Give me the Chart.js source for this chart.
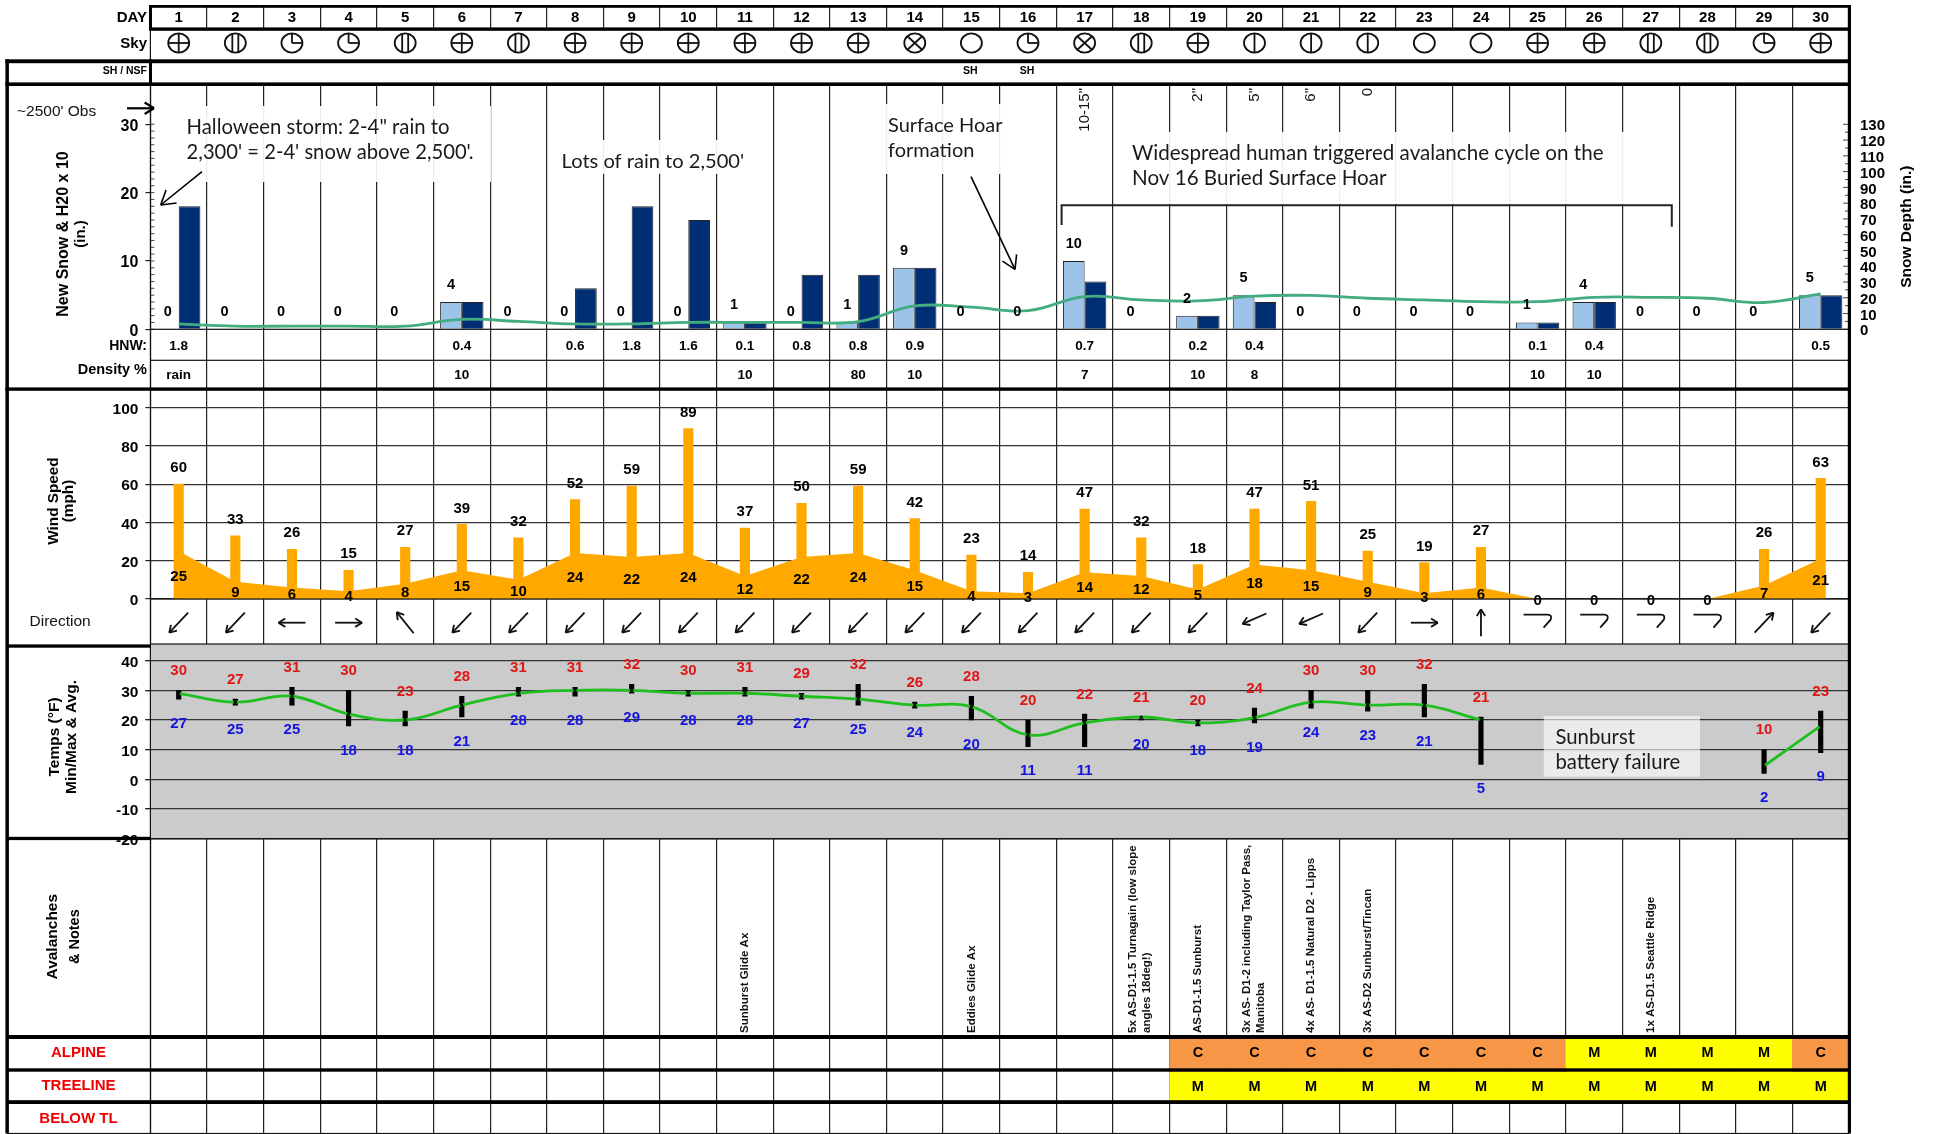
<!DOCTYPE html>
<html>
<head>
<meta charset="utf-8">
<title>Weather and avalanche summary</title>
<style>
  html, body { margin: 0; padding: 0; background: #fff; }
  #wrap { position: relative; width: 1933px; height: 1134px; }
</style>
<script src="https://cdn.jsdelivr.net/npm/chart.js@4"></script>
</head>
<body>
<div id="wrap"><canvas id="chart" width="1933" height="1134"></canvas></div>
<script>
// ---- data ----
const days = [1,2,3,4,5,6,7,8,9,10,11,12,13,14,15,16,17,18,19,20,21,22,23,24,25,26,27,28,29,30];
const skyCover = ['ovc','bkn','sct','sct','bkn','ovc','bkn','ovc','ovc','ovc','ovc','ovc','ovc','obs','clr','sct','obs','bkn','ovc','few','few','few','clr','clr','ovc','ovc','bkn','bkn','sct','ovc'];
const shNsf = ['','','','','','','','','','','','','','','SH','SH','','','','','','','','','','','','','',''];
const newSnow = [0,0,0,0,0,4,0,0,0,0,1,0,1,9,0,0,10,0,2,5,0,0,0,0,1,4,0,0,0,5];
const waterX10 = [18,0,0,0,0,4,0,6,18,16,1,8,8,9,0,0,7,0,2,4,0,0,0,0,1,4,0,0,0,5];
const snowDepth = [3.4,2,2,2,2,6.3,5,3.4,3.4,4.4,4.4,4.4,4.8,14.8,14,11.8,20.7,18.6,18,21,21.5,19.7,18.6,17.5,17.5,20.3,20.3,19.7,17,22.4];
const hnw = ['1.8','','','','','0.4','','0.6','1.8','1.6','0.1','0.8','0.8','0.9','','','0.7','','0.2','0.4','','','','','0.1','0.4','','','','0.5'];
const density = ['rain','','','','','10','','','','','10','','80','10','','','7','','10','8','','','','','10','10','','','',''];
const upperSnow = ['','','','','','','','','','','','','','','','','10-15"','','2"','5"','6"','0','','','','','','','',''];
const windGust = [60,33,26,15,27,39,32,52,59,89,37,50,59,42,23,14,47,32,18,47,51,25,19,27,null,null,null,null,26,63];
const windAvg = [25,9,6,4,8,15,10,24,22,24,12,22,24,15,4,3,14,12,5,18,15,9,3,6,0,0,0,0,7,21];
const windDir = ['SW','SW','W','E','NW','SW','SW','SW','SW','SW','SW','SW','SW','SW','SW','SW','SW','SW','SW','WSW','WSW','SW','E','N','calm','calm','calm','calm','NE','SW'];
const tempMax = [30,27,31,30,23,28,31,31,32,30,31,29,32,26,28,20,22,21,20,24,30,30,32,21,null,null,null,null,10,23];
const tempMin = [27,25,25,18,18,21,28,28,29,28,28,27,25,24,20,11,11,20,18,19,24,23,21,5,null,null,null,null,2,9];
const tempAvg = [29,26,28,22,20,25,29,30,30,29,29,28,27,25,24.5,15,19,21,19,20.8,26,25,25,20,null,null,null,null,4.5,18];
const notes = [[],[],[],[],[],[],[],[],[],[],['Sunburst Glide Ax'],[],[],[],['Eddies Glide Ax'],[],[],
  ['5x AS-D1-1.5 Turnagain (low slope','angles 18deg!)'],['AS-D1-1.5 Sunburst'],['3x AS- D1-2 including Taylor Pass,','Manitoba'],
  ['4x AS- D1-1.5 Natural D2 - Lipps'],['3x AS-D2 Sunburst/Tincan'],[],[],[],[],['1x AS-D1.5 Seattle Ridge'],[],[],[]];
const alpine = ['','','','','','','','','','','','','','','','','','','C','C','C','C','C','C','C','M','M','M','M','C'];
const treeline = ['','','','','','','','','','','','','','','','','','','M','M','M','M','M','M','M','M','M','M','M','M'];

// ---- layout, pixel rows of the sheet ----
const chartLeft = 150.4, chartRight = 1849;
const rowTop = 5.5, rowSnow = 86, rowZero = 329.3, rowDensity = 360.3, rowWind = 391, rowWindZero = 599,
      rowTemp = 644, rowNotes = 838.7, rowAlpine = 1039, rowTreeline = 1071.7, rowBelow = 1104, rowEnd = 1133.5;
const sans = '"Liberation Sans", Arial, sans-serif';
const calibri = 'Lato, "Open Sans", sans-serif';
const dangerColor = { C: '#F79646', M: '#FFFF00' };
const bandOf = vals => vals.map(v => v ? [0, 1] : null);

// axis widths and bands are fixed by pixels, tick labels must not pad the chart area
function fixBox(s, width) {
  s.width = width;
  s.paddingTop = 0;
  s.paddingBottom = 0;
  s.paddingLeft = 0;
  s.paddingRight = 0;
}
function leftAxis(weight, height, min, max, step) {
  return {
    type: 'linear', position: 'left', stack: 'left', stackWeight: height, weight, min, max,
    border: { display: false },
    grid: { color: '#333', lineWidth: 1.2, tickLength: 5, tickColor: '#222' },
    ticks: {
      stepSize: step, includeBounds: false, autoSkip: false, padding: 7, labelOffset: 2, color: '#000',
      font: { family: sans, weight: 'bold', size: 15.5 },
    },
    afterFit: s => fixBox(s, chartLeft),
  };
}
function spacer(position, weight, height, extra) {
  return Object.assign({
    type: 'linear', display: false, position, stack: position, weight, stackWeight: height,
    afterFit: s => fixBox(s, position === 'left' ? chartLeft : 1933 - chartRight),
  }, extra);
}

// ---- drawing helpers ----
function put(ctx, text, x, y, font, color, align) {
  ctx.font = font;
  ctx.fillStyle = color || '#000';
  ctx.textAlign = align || 'center';
  ctx.textBaseline = 'middle';
  ctx.fillText(text, x, y);
}
function putUp(ctx, text, x, y, font, color, align) {
  ctx.save();
  ctx.translate(x, y);
  ctx.rotate(-Math.PI / 2);
  put(ctx, text, 0, 0, font, color, align);
  ctx.restore();
}
function seg(ctx, x1, y1, x2, y2) {
  ctx.beginPath();
  ctx.moveTo(x1, y1);
  ctx.lineTo(x2, y2);
  ctx.stroke();
}
function arrow(ctx, x1, y1, x2, y2, head) {
  seg(ctx, x1, y1, x2, y2);
  const a = Math.atan2(y2 - y1, x2 - x1);
  seg(ctx, x2, y2, x2 - head * Math.cos(a - 0.55), y2 - head * Math.sin(a - 0.55));
  seg(ctx, x2, y2, x2 - head * Math.cos(a + 0.55), y2 - head * Math.sin(a + 0.55));
}
function skyIcon(ctx, kind, x, y) {
  const rx = 10.5, ry = 9.6;
  ctx.strokeStyle = '#111';
  ctx.lineWidth = 1.8;
  ctx.beginPath();
  ctx.ellipse(x, y, rx, ry, 0, 0, Math.PI * 2);
  ctx.stroke();
  if (kind === 'ovc') {
    seg(ctx, x - rx, y, x + rx, y);
    seg(ctx, x, y - ry, x, y + ry);
  } else if (kind === 'bkn') {
    seg(ctx, x - 3, y - ry + 0.8, x - 3, y + ry - 0.8);
    seg(ctx, x + 3, y - ry + 0.8, x + 3, y + ry - 0.8);
  } else if (kind === 'few') {
    seg(ctx, x, y - ry, x, y + ry);
  } else if (kind === 'sct') {
    seg(ctx, x, y - ry, x, y);
    seg(ctx, x, y, x + rx, y);
  } else if (kind === 'obs') {
    const k = 0.7;
    seg(ctx, x - rx * k, y - ry * k, x + rx * k, y + ry * k);
    seg(ctx, x - rx * k, y + ry * k, x + rx * k, y - ry * k);
  }
}
const headings = { N: [0, -1], NE: [0.7, -0.74], E: [1, 0], SW: [-0.7, 0.74], W: [-1, 0], NW: [-0.63, -0.78], WSW: [-0.92, 0.4] };
function windArrow(ctx, dir, x, y) {
  ctx.strokeStyle = '#111';
  ctx.lineWidth = 1.8;
  if (dir === 'calm') {
    ctx.beginPath();
    ctx.moveTo(x - 14, y - 8);
    ctx.lineTo(x + 10, y - 8);
    ctx.quadraticCurveTo(x + 15, y - 8, x + 13, y - 3);
    ctx.lineTo(x + 6, y + 5);
    ctx.stroke();
    return;
  }
  const d = headings[dir], half = dir === 'WSW' ? 13 : 13.5;
  const yc = dir === 'WSW' ? y - 4 : y;
  arrow(ctx, x - d[0] * half, yc - d[1] * half, x + d[0] * half, yc + d[1] * half, 8);
}

// ---- plugin: what chart.js has no element for ----
const sheetPlugin = {
  id: 'sheet',
  beforeDatasetsDraw(chart) {
    const { ctx, chartArea, scales } = chart;
    ctx.save();
    // sky and SH rows have no day lines, the temp panel is grey with no day lines
    ctx.fillStyle = '#fff';
    ctx.fillRect(chartLeft - 0.5, 30, chartRight - chartLeft + 1, rowSnow - 30);
    ctx.fillStyle = '#CBCBCB';
    ctx.fillRect(chartLeft, rowTemp, chartRight - chartLeft, rowNotes - rowTemp);
    scales.yTemp.drawGrid(chartArea);
    ctx.restore();
  },
  afterDatasetsDraw(chart) {
    const { ctx, scales } = chart;
    const x = scales.x, ySnow = scales.ySnow, yDepth = scales.yDepth, yWind = scales.yWind, yTemp = scales.yTemp;
    ctx.save();

    const boldF = s => 'bold ' + s + 'px ' + sans;
    days.forEach((d, i) => {
      const cx = x.getPixelForValue(i);
      put(ctx, String(d), cx, 17.5, boldF(15));
      skyIcon(ctx, skyCover[i], cx, 43);
      if (shNsf[i]) put(ctx, shNsf[i], cx - 1, 71, boldF(10.5));
      if (hnw[i]) put(ctx, hnw[i], cx, 346.3, boldF(13.5));
      if (density[i]) put(ctx, density[i], cx, 375, boldF(13.5));
      if (upperSnow[i]) putUp(ctx, upperSnow[i], cx, 88, '15px ' + sans, '#111', 'right');

      // new snow values stand over the light bar
      const lightBar = chart.getDatasetMeta(0).data[i];
      put(ctx, String(newSnow[i]), lightBar.x, ySnow.getPixelForValue(newSnow[i]) - 17, boldF(14.5));

      if (windGust[i] !== null) put(ctx, String(windGust[i]), cx, yWind.getPixelForValue(windGust[i]) - 16, boldF(15));
      put(ctx, String(windAvg[i]), cx, yWind.getPixelForValue(windAvg[i] / 2) + 2, boldF(15));
      windArrow(ctx, windDir[i], cx, 622.7);

      if (tempMax[i] !== null) {
        put(ctx, String(tempMax[i]), cx, yTemp.getPixelForValue(tempMax[i]) - 19.5, boldF(15), '#E01515');
        put(ctx, String(tempMin[i]), cx, yTemp.getPixelForValue(tempMin[i]) + 24.5, boldF(15), '#1515E0');
      }

      notes[i].forEach((line, k) => {
        const off = notes[i].length > 1 ? (k === 0 ? -8 : 6) : 0;
        putUp(ctx, line, cx + off, 1033, 'bold 11.5px ' + sans, '#111', 'left');
      });
      if (alpine[i]) put(ctx, alpine[i], cx, 1053, boldF(14.5));
      if (treeline[i]) put(ctx, treeline[i], cx, 1086.5, boldF(14.5));
    });

    // minor ticks along both snow axes
    ctx.strokeStyle = '#444';
    ctx.lineWidth = 1;
    for (let v = 0; v <= 30; v++) seg(ctx, chartLeft, ySnow.getPixelForValue(v), chartLeft + 4, ySnow.getPixelForValue(v));
    for (let v = 0; v <= 130; v += 5) {
      const len = v % 10 === 0 ? 6 : 4;
      seg(ctx, chartRight - len, yDepth.getPixelForValue(v), chartRight, yDepth.getPixelForValue(v));
    }
    ctx.restore();
  },
  afterDraw(chart) {
    const { ctx } = chart;
    ctx.save();

    // row lines of the sheet
    ctx.fillStyle = '#111';
    ctx.fillRect(chartLeft, rowZero - 0.6, chartRight - chartLeft, 1.2);
    ctx.fillRect(chartLeft, rowDensity - 0.6, chartRight - chartLeft, 1.2);
    ctx.fillRect(chartLeft, rowWindZero - 0.6, chartRight - chartLeft, 1.2);
    ctx.fillRect(chartLeft, rowTemp - 0.6, chartRight - chartLeft, 1.2);
    ctx.fillRect(chartLeft, rowNotes - 0.6, chartRight - chartLeft, 1.2);
    ctx.fillRect(chartLeft - 0.6, 30, 1.2, rowEnd - 30);
    ctx.fillRect(7, rowEnd - 0.6, chartRight - 7, 1.2);

    // heavy frame
    ctx.fillStyle = '#000';
    const thickH = (x1, y1, y2) => ctx.fillRect(x1, y1, 1851 - x1, y2 - y1);
    thickH(149, 5, 7.8);
    thickH(149, 27.4, 30.8);
    thickH(5.4, 59.3, 63.2);
    thickH(5.4, 82.4, 86);
    thickH(5.4, 387.4, 390.8);
    thickH(6, 1035, 1039);
    thickH(6, 1068.3, 1071.7);
    thickH(6, 1100.2, 1104);
    ctx.fillRect(5.4, 59.3, 3.5, rowEnd - 59.3);
    ctx.fillRect(1847.8, 5, 3.2, rowEnd - 5);
    ctx.fillRect(149, 5, 3, 25);
    ctx.fillRect(149, 59.3, 3, 26.7);
    ctx.fillRect(6, 644.4, 145, 3.3);
    ctx.fillRect(6, 836.8, 145, 3.3);

    // row and panel titles
    const bold = s => 'bold ' + s + 'px ' + sans;
    put(ctx, 'DAY', 147, 17.5, bold(15), '#000', 'right');
    put(ctx, 'Sky', 147, 44, bold(15), '#000', 'right');
    put(ctx, 'SH / NSF', 147, 71, bold(10.5), '#000', 'right');
    put(ctx, 'HNW:', 147, 346.3, bold(14), '#000', 'right');
    put(ctx, 'Density %', 147, 369.5, bold(14.5), '#000', 'right');
    put(ctx, "~2500' Obs", 17, 111.7, '15.5px ' + sans, '#111', 'left');
    put(ctx, 'Direction', 29.5, 621.7, '15.5px ' + sans, '#111', 'left');
    putUp(ctx, 'New Snow & H20 x 10', 63.8, 234, bold(16));
    putUp(ctx, '(in.)', 81, 234, bold(15));
    putUp(ctx, 'Wind Speed', 53.6, 501, bold(15.3));
    putUp(ctx, '(mph)', 69, 501, bold(15.3));
    putUp(ctx, 'Temps (°F)', 54.5, 737, bold(15.5));
    putUp(ctx, 'Min/Max & Avg.', 71.4, 737, bold(15.5));
    putUp(ctx, 'Avalanches', 53, 936.7, bold(15.5));
    putUp(ctx, '& Notes', 75, 936.7, bold(14.5));
    putUp(ctx, 'Snow Depth (in.)', 1906.8, 226.7, bold(15.5));
    put(ctx, 'ALPINE', 78.5, 1052.5, bold(15), '#F00000');
    put(ctx, 'TREELINE', 78.5, 1085.5, bold(15), '#F00000');
    put(ctx, 'BELOW TL', 78.5, 1118.5, bold(15), '#F00000');

    // text boxes drawn over the sheet
    const box = (x1, y1, x2, y2) => { ctx.fillStyle = 'rgba(255,255,255,0.92)'; ctx.fillRect(x1, y1, x2 - x1, y2 - y1); };
    box(176, 106, 491, 182);
    box(549, 140, 773, 174);
    box(885, 104, 1003, 174);
    box(1116, 132, 1625, 204);
    ctx.fillStyle = 'rgba(255,255,255,0.62)';
    ctx.fillRect(1543.8, 716, 156.2, 60.7);

    const note = s => s + 'px ' + calibri;
    put(ctx, 'Halloween storm: 2-4" rain to', 186.6, 127.3, note(20.3), '#1a1a1a', 'left');
    put(ctx, "2,300' = 2-4' snow above 2,500'.", 186.6, 152.7, note(20.2), '#1a1a1a', 'left');
    put(ctx, "Lots of rain to 2,500'", 561.6, 162, note(20.1), '#1a1a1a', 'left');
    put(ctx, 'Surface Hoar', 888, 125.3, note(20), '#1a1a1a', 'left');
    put(ctx, 'formation', 888, 150.7, note(20), '#1a1a1a', 'left');
    put(ctx, 'Widespread human triggered avalanche cycle on the', 1132, 153.3, note(20.6), '#1a1a1a', 'left');
    put(ctx, 'Nov 16 Buried Surface Hoar', 1132, 178.7, note(20.6), '#1a1a1a', 'left');
    put(ctx, 'Sunburst', 1555.5, 737.3, note(20.3), '#1a1a1a', 'left');
    put(ctx, 'battery failure', 1555.5, 762.3, note(20.3), '#1a1a1a', 'left');

    // bracket and pointers
    ctx.strokeStyle = '#222';
    ctx.lineWidth = 2;
    ctx.beginPath();
    ctx.moveTo(1061.6, 225);
    ctx.lineTo(1061.6, 205.3);
    ctx.lineTo(1671.8, 205.3);
    ctx.lineTo(1671.8, 226.7);
    ctx.stroke();
    ctx.strokeStyle = '#000';
    ctx.lineWidth = 1.6;
    arrow(ctx, 971, 176.7, 1015, 269.3, 15);
    arrow(ctx, 202, 171.7, 160.7, 205, 16);
    ctx.lineWidth = 2.2;
    arrow(ctx, 127, 108.3, 154, 108.3, 11);
    ctx.restore();
  },
};

new Chart(document.getElementById('chart'), {
  type: 'bar',
  data: {
    labels: days,
    datasets: [
      { label: 'New snow', data: newSnow, yAxisID: 'ySnow', backgroundColor: '#9DC3E8', borderColor: '#222', borderWidth: 1,
        categoryPercentage: 0.766, barPercentage: 1, order: 3 },
      { label: 'H2O x 10', data: waterX10, yAxisID: 'ySnow', backgroundColor: '#002E74', borderColor: '#222', borderWidth: 1,
        categoryPercentage: 0.766, barPercentage: 1, order: 3 },
      { type: 'line', label: 'Snow depth', data: snowDepth, yAxisID: 'yDepth', borderColor: '#43AC80', borderWidth: 2.8,
        pointRadius: 0, tension: 0.4, order: 1 },
      { label: 'Gust', data: windGust, yAxisID: 'yWind', backgroundColor: '#FFA900', barThickness: 9.5, grouped: false, order: 3 },
      { type: 'line', label: 'Wind avg', data: windAvg, yAxisID: 'yWind', backgroundColor: '#FFA900', borderWidth: 0,
        pointRadius: 0, fill: 'origin', tension: 0, order: 4 },
      { label: 'Temp range', data: tempMin.map((v, i) => (v === null ? null : [v, tempMax[i]])), yAxisID: 'yTemp',
        backgroundColor: '#000', barThickness: 4.5, grouped: false, order: 3 },
      { type: 'line', label: 'Temp avg', data: tempAvg, yAxisID: 'yTemp', borderColor: '#1FBF1F', borderWidth: 2.8,
        pointRadius: 1.6, pointBackgroundColor: '#000', pointBorderWidth: 0, tension: 0.4, spanGaps: false, order: 1 },
      { label: 'Alpine', data: bandOf(alpine), yAxisID: 'yAlpine', backgroundColor: alpine.map(v => dangerColor[v] || '#fff'),
        categoryPercentage: 1, barPercentage: 1, grouped: false, order: 5 },
      { label: 'Treeline', data: bandOf(treeline), yAxisID: 'yTreeline', backgroundColor: treeline.map(v => dangerColor[v] || '#fff'),
        categoryPercentage: 1, barPercentage: 1, grouped: false, order: 5 },
    ],
  },
  options: {
    responsive: false,
    animation: false,
    events: [],
    layout: { autoPadding: false, padding: { top: rowTop, bottom: 1134 - rowEnd, left: 0, right: 0 } },
    plugins: { legend: { display: false }, title: { display: false }, tooltip: { enabled: false } },
    scales: {
      x: {
        type: 'category', position: 'bottom', offset: true,
        grid: { offset: true, color: '#222', lineWidth: 1.2, drawTicks: false },
        border: { display: false },
        ticks: { display: false },
        afterFit: s => { fixBox(s, s.width); s.height = 0; },
      },
      yHeader: spacer('left', 10, rowSnow - rowTop),
      ySnow: (() => {
        const a = leftAxis(9, rowZero - rowSnow, 0, 35.6, 10);
        a.grid.drawOnChartArea = false;
        a.ticks.font.size = 16;
        return a;
      })(),
      yTable: spacer('left', 8, rowWind - rowZero),
      yWind: leftAxis(7, rowWindZero - rowWind, 0, 108.7, 20),
      yDir: spacer('left', 6, rowTemp - rowWindZero),
      yTemp: leftAxis(5, rowNotes - rowTemp, -20, 45.6, 10),
      yNotes: spacer('left', 4, rowAlpine - rowNotes),
      yAlpine: spacer('left', 3, rowTreeline - rowAlpine, { min: 0, max: 1 }),
      yTreeline: spacer('left', 2, rowBelow - rowTreeline, { min: 0, max: 1 }),
      yBelow: spacer('left', 1, rowEnd - rowBelow),

      yDepthTop: spacer('right', 1, rowSnow - rowTop),
      yDepth: {
        type: 'linear', position: 'right', stack: 'right', weight: 2, stackWeight: rowZero - rowSnow, min: 0, max: 154.3,
        border: { display: false },
        grid: { drawOnChartArea: false, drawTicks: false },
        ticks: {
          stepSize: 10, includeBounds: false, autoSkip: false, padding: 11, labelOffset: 2, color: '#000',
          font: { family: sans, weight: 'bold', size: 15 },
        },
        afterBuildTicks: s => { s.ticks = s.ticks.filter(t => t.value <= 130); },
        afterFit: s => fixBox(s, 1933 - chartRight),
      },
      yDepthBottom: spacer('right', 3, rowEnd - rowZero),
    },
  },
  plugins: [sheetPlugin],
});
</script>
</body>
</html>
